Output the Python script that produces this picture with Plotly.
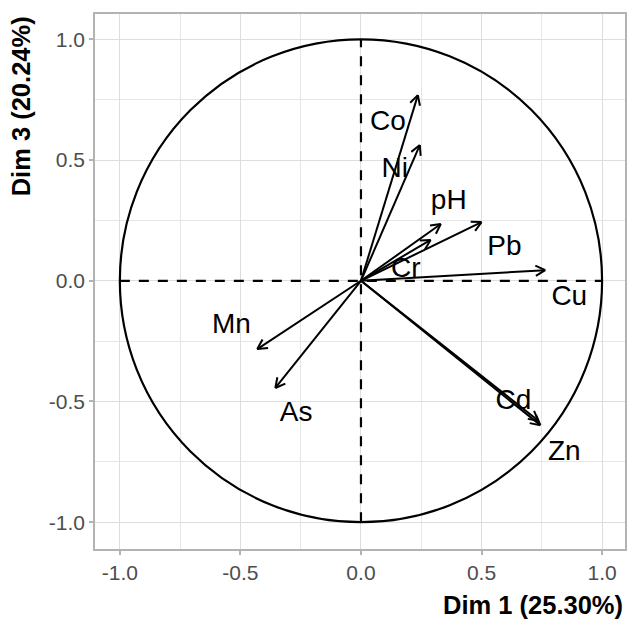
import numpy as np
import plotly.graph_objects as go

# Variable coordinates on Dim 1 / Dim 3 (correlation circle)
variables = ["Co", "Ni", "pH", "Pb", "Cr", "Cu", "Mn", "As", "Cd", "Zn"]
dim1 = [0.236, 0.244, 0.331, 0.500, 0.289, 0.764, -0.430, -0.355, 0.736, 0.744]
dim3 = [0.769, 0.562, 0.235, 0.243, 0.169, 0.044, -0.283, -0.444, -0.580, -0.598]

# Repelled label positions
label_x = [0.112, 0.140, 0.364, 0.595, 0.186, 0.864, -0.537, -0.269, 0.632, 0.843]
label_y = [0.653, 0.458, 0.326, 0.135, 0.044, -0.072, -0.189, -0.552, -0.502, -0.714]

tick_vals = [-1.0, -0.5, 0.0, 0.5, 1.0]
tick_text = ["-1.0", "-0.5", "0.0", "0.5", "1.0"]

x_title = "Dim 1 (25.30%)"
y_title = "Dim 3 (20.24%)"

RADIUS = 1.0
HEAD_LEN = 0.045
HEAD_ANGLE = np.deg2rad(28)

# Build arrow shafts and open arrowheads from the variable coordinates
ax_pts, ay_pts = [], []
for x, y in zip(dim1, dim3):
    ang = np.arctan2(y, x)
    ax_pts += [0, x, None]
    ay_pts += [0, y, None]
    for s in (1, -1):
        a = ang + np.pi + s * HEAD_ANGLE
        ax_pts += [x + HEAD_LEN * np.cos(a), x, None]
        ay_pts += [y + HEAD_LEN * np.sin(a), y, None]

fig = go.Figure()

fig.add_trace(go.Scatter(
    x=ax_pts, y=ay_pts, mode="lines",
    line=dict(color="black", width=2),
    hoverinfo="skip", showlegend=False,
))

fig.add_trace(go.Scatter(
    x=label_x, y=label_y, mode="text", text=variables,
    textposition="middle center",
    textfont=dict(family="Liberation Sans, Arial", size=28, color="black"),
    hoverinfo="skip", showlegend=False,
))

# Unit circle and dashed reference axes
fig.add_shape(type="circle", xref="x", yref="y",
              x0=-RADIUS, y0=-RADIUS, x1=RADIUS, y1=RADIUS,
              line=dict(color="black", width=2.2), layer="between")
fig.add_shape(type="line", xref="x", yref="y",
              x0=-RADIUS, y0=0, x1=RADIUS, y1=0,
              line=dict(color="black", width=2.2, dash="10px,9px"), layer="between")
fig.add_shape(type="line", xref="x", yref="y",
              x0=0, y0=-RADIUS, x1=0, y1=RADIUS,
              line=dict(color="black", width=2.2, dash="10px,9px"), layer="between")

axis_common = dict(
    tickvals=tick_vals, ticktext=tick_text,
    showgrid=True, gridcolor="#dedede", gridwidth=1,
    minor=dict(dtick=0.25, tick0=0, showgrid=True, gridcolor="#e6e6e6", gridwidth=0.6, ticks=""),
    zeroline=False,
    showline=True, mirror=True, linecolor="#b3b3b3", linewidth=1.5,
    ticks="outside", ticklen=4, tickwidth=1.5, tickcolor="#b3b3b3",
    tickfont=dict(family="Liberation Sans, Arial", size=21, color="#4d4d4d"),
)

fig.update_xaxes(range=[-1.103, 1.095], **axis_common)
fig.update_yaxes(range=[-1.111, 1.105], **axis_common)

fig.add_annotation(text="<b>" + x_title + "</b>", xref="paper", yref="paper",
                   x=1, y=-0.105, xanchor="right", yanchor="middle", showarrow=False,
                   font=dict(family="Liberation Sans, Arial", size=25.5, color="black"))
fig.add_annotation(text="<b>" + y_title + "</b>", xref="paper", yref="paper",
                   x=-0.139, y=1, xanchor="center", yanchor="top", textangle=-90,
                   showarrow=False,
                   font=dict(family="Liberation Sans, Arial", size=25.5, color="black"))

fig.update_layout(
    width=630, height=621,
    margin=dict(l=95, r=3, t=14, b=72),
    plot_bgcolor="white", paper_bgcolor="white",
)

fig.write_html("out.html")
